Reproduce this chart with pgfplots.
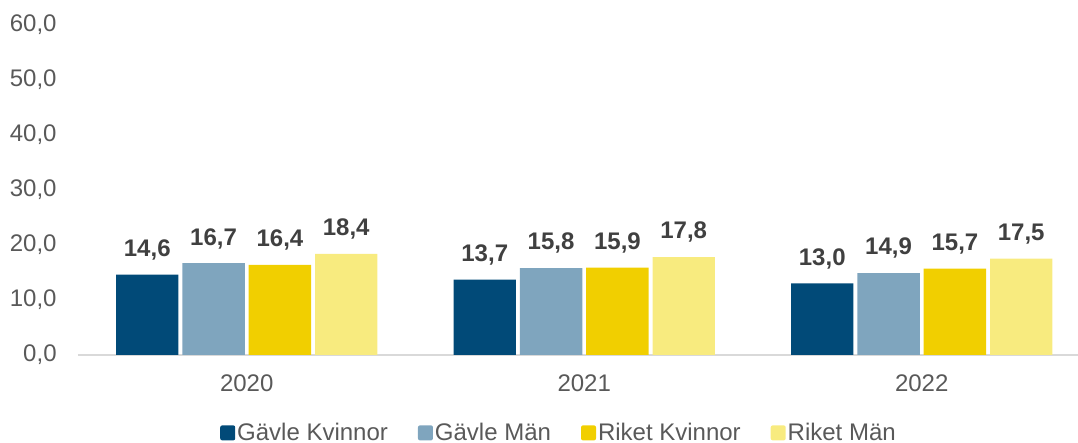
\documentclass[border=0pt]{standalone}
\usepackage{pgfplots}
\pgfplotsset{compat=1.18}
\usepackage{fontspec}
\setmainfont{Liberation Sans}
\definecolor{cA}{HTML}{014A78}
\definecolor{cB}{HTML}{7FA5BE}
\definecolor{cC}{HTML}{F1CF00}
\definecolor{cD}{HTML}{F8EB7F}
\definecolor{tickgray}{HTML}{595959}
\definecolor{lblgray}{HTML}{404040}
\definecolor{axgray}{HTML}{D9D9D9}
\begin{document}
\begin{tikzpicture}
\useasboundingbox (-39pt,-44pt) rectangle (500pt,177.5pt);
\begin{axis}[
  scale only axis,
  width=500pt, height=165pt,
  xmin=-0.5, xmax=2.463,
  ymin=0, ymax=60,
  ytick={0,10,20,30,40,50,60},
  xtick={0,1,2},
  xticklabels={2020,2021,2022},
  major tick length=0pt,
  axis x line*=bottom,
  axis y line*=left,
  y axis line style={draw=none},
  x axis line style={draw=axgray, line width=1pt, -},
  /pgf/number format/.cd, fixed, fixed zerofill, precision=1, use comma, assume math mode=true,
  /pgfplots/.cd,
  yticklabel style={font=\fontsize{12}{14}\selectfont, text=tickgray, inner sep=0pt, anchor=east, xshift=-10.5pt},
  xticklabel style={font=\fontsize{12}{14}\selectfont, text=tickgray, inner sep=0pt, anchor=north, yshift=-9.5pt},
  ybar,
  bar width=0.185,
  nodes near coords,
  nodes near coords style={font=\bfseries\fontsize{12}{14}\selectfont, text=lblgray, inner sep=0pt, anchor=south, yshift=7pt},
  legend style={at={(axis description cs:0.481,-0.236)}, anchor=center, draw=none, fill=none,
    legend columns=4, font=\fontsize{12}{14}\selectfont, text=tickgray,
    nodes={inner sep=1pt},
    /tikz/every even column/.append style={column sep=14pt}},
  legend image code/.code={\fill[#1, rounded corners=1pt] (0pt,-3.75pt) rectangle (7.5pt,3.75pt);},
  legend cell align=left,
]
\addplot[fill=cA, draw=none, bar shift=-0.2948] coordinates {(0,14.6) (1,13.7) (2,13.0)};
\addplot[fill=cB, draw=none, bar shift=-0.0983] coordinates {(0,16.7) (1,15.8) (2,14.9)};
\addplot[fill=cC, draw=none, bar shift=0.0983] coordinates {(0,16.4) (1,15.9) (2,15.7)};
\addplot[fill=cD, draw=none, bar shift=0.2948] coordinates {(0,18.4) (1,17.8) (2,17.5)};
\legend{Gävle Kvinnor, Gävle Män, Riket Kvinnor, Riket Män}
\end{axis}
\end{tikzpicture}
\end{document}
